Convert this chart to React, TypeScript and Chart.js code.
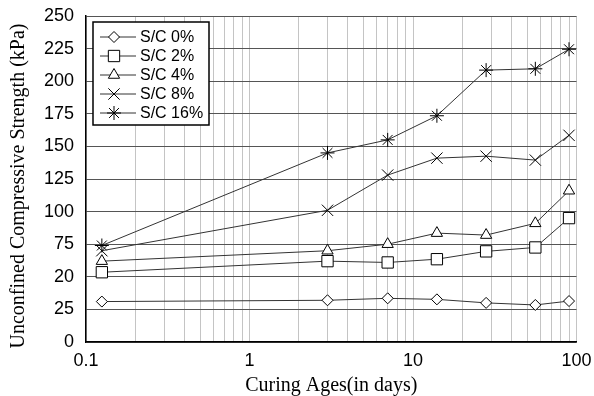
import React, { useEffect, useRef } from 'react';
import { Chart, registerables } from 'chart.js';
import { drawPoint } from 'chart.js/helpers';

Chart.register(...registerables);

// ---- data ----
const curingDays = [0.125, 3, 7, 14, 28, 56, 90];
const seriesLabels = ['S/C 0%', 'S/C 2%', 'S/C 4%', 'S/C 8%', 'S/C 16%'];
const sc0 = [31, 32, 33.5, 32.7, 30, 28.4, 31.4];
const sc2 = [53.5, 62, 61, 63.5, 69.5, 72.5, 95];
const sc4 = [62, 70, 75, 83.5, 82, 91, 116];
const sc8 = [70, 101, 128, 141, 142.5, 139.5, 158.5];
const sc16 = [74, 145, 155, 173.5, 208.5, 209.5, 224.5];
const seriesValues = [sc0, sc2, sc4, sc8, sc16];
const xTickLabels = ['0.1', '1', '10', '100'];
const yTickLabels = ['0', '25', '20', '75', '100', '125', '150', '175', '200', '225', '250'];
const xTitle = 'Curing Ages(in days)';
const yTitle = 'Unconfined Compressive Strength (kPa)';

// ---- styles ----
const markerStyles = ['rectRot', 'rect', 'triangle', 'crossRot', 'star'];
const markerRadii = [5.5, 8, 6.5, 8, 7];
const SANS = "'Liberation Sans', Arial, sans-serif";
const SERIF = "'Liberation Serif', 'Times New Roman', serif";

function logGridValues(): number[] {
  const vals: number[] = [];
  for (const decade of [0.1, 1, 10]) {
    for (let m = 1; m <= 9; m++) vals.push(+(decade * m).toPrecision(3));
  }
  vals.push(100);
  return vals;
}

const legendBoxPlugin = {
  id: 'legendBox',
  afterDatasetsDraw(chart: any) {
    const ctx = chart.ctx;
    const a = chart.chartArea;
    const x0 = a.left + 7;
    const y0 = a.top + 6;
    const w = 116;
    const h = 103;
    ctx.save();
    ctx.fillStyle = '#fff';
    ctx.fillRect(x0, y0, w, h);
    ctx.strokeStyle = '#000';
    ctx.lineWidth = 1.5;
    ctx.strokeRect(x0, y0, w, h);
    chart.data.datasets.forEach((ds: any, i: number) => {
      const y = y0 + 15 + i * 19;
      ctx.strokeStyle = '#333';
      ctx.lineWidth = 1;
      ctx.beginPath();
      ctx.moveTo(x0 + 7, y);
      ctx.lineTo(x0 + 43, y);
      ctx.stroke();
      ctx.fillStyle = '#fff';
      ctx.strokeStyle = '#000';
      ctx.lineWidth = 1;
      drawPoint(ctx, { pointStyle: ds.pointStyle, radius: ds.pointRadius, rotation: 0, borderWidth: 1 } as any, x0 + 21, y);
      ctx.fillStyle = '#000';
      ctx.font = `16px ${SANS}`;
      ctx.textBaseline = 'middle';
      ctx.textAlign = 'left';
      ctx.fillText(ds.label, x0 + 47, y + 1);
    });
    ctx.restore();
  },
};

const yTitlePlugin = {
  id: 'yTitle',
  afterDraw(chart: any) {
    const ctx = chart.ctx;
    ctx.save();
    ctx.translate(19, 186);
    ctx.rotate(-Math.PI / 2);
    ctx.font = `20px ${SERIF}`;
    ctx.fillStyle = '#000';
    ctx.textAlign = 'center';
    ctx.textBaseline = 'middle';
    ctx.fillText(yTitle, 0, 0);
    ctx.restore();
  },
};

export default function App() {
  const canvasRef = useRef<HTMLCanvasElement | null>(null);

  useEffect(() => {
    const canvas = canvasRef.current;
    if (!canvas) return;
    const gridVals = logGridValues();
    const chart = new Chart(canvas, {
      type: 'line',
      data: {
        datasets: seriesValues.map((vals, i) => ({
          label: seriesLabels[i],
          data: curingDays.map((d, j) => ({ x: d, y: vals[j] })),
          borderColor: '#333',
          borderWidth: 1,
          pointStyle: markerStyles[i] as any,
          pointRadius: markerRadii[i],
          pointBackgroundColor: '#fff',
          pointBorderColor: '#000',
          pointBorderWidth: 1,
          tension: 0,
          fill: false,
        })),
      },
      options: {
        animation: false,
        responsive: false,
        maintainAspectRatio: false,
        layout: { padding: { left: 0, right: 17.5, top: 16, bottom: 0 } },
        plugins: {
          legend: { display: false },
          tooltip: { enabled: false },
        },
        scales: {
          x: {
            type: 'logarithmic',
            min: 0.1,
            max: 100,
            afterBuildTicks: (scale: any) => {
              scale.ticks = gridVals.map((v) => ({ value: v }));
            },
            afterFit: (scale: any) => {
              scale.height = 54;
              scale.paddingLeft = 0;
              scale.paddingRight = 0;
            },
            ticks: {
              autoSkip: false,
              maxRotation: 0,
              padding: 8,
              color: '#000',
              font: { family: SANS, size: 18 },
              callback: (v: any) => {
                const s = String(+Number(v).toPrecision(3));
                return xTickLabels.includes(s) ? s : '';
              },
            },
            grid: { color: '#c4c4c4', lineWidth: 1, drawTicks: false },
            border: { color: '#000', width: 1.5 },
            title: {
              display: true,
              text: xTitle,
              color: '#000',
              font: { family: SERIF, size: 20 },
              padding: { top: 0, bottom: -2 },
            },
          },
          y: {
            type: 'linear',
            min: 0,
            max: 250,
            afterFit: (scale: any) => {
              scale.width = 86;
              scale.paddingTop = 0;
              scale.paddingBottom = 0;
            },
            ticks: {
              stepSize: 25,
              padding: 12,
              color: '#000',
              font: { family: SANS, size: 18 },
              callback: (_v: any, index: number) => yTickLabels[index],
            },
            grid: { color: '#555', lineWidth: 1, drawTicks: false },
            border: { color: '#000', width: 1.5 },
          },
        },
      },
      plugins: [legendBoxPlugin, yTitlePlugin],
    });
    return () => chart.destroy();
  }, []);

  return (
    <div style={{ position: 'fixed', left: 0, top: 0, width: 594, height: 396, background: '#fff' }}>
      <canvas ref={canvasRef} width={594} height={396} style={{ display: 'block' }} />
    </div>
  );
}
